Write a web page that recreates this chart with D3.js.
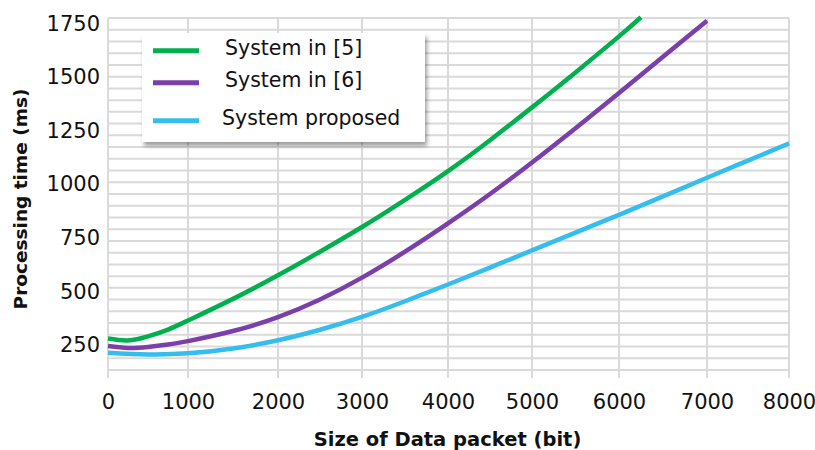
<!DOCTYPE html>
<html>
<head>
<meta charset="utf-8">
<script src="https://cdn.jsdelivr.net/npm/d3@7"></script>
<style>
  html, body { margin: 0; padding: 0; background: #ffffff; }
  svg { display: block; }
  text { font-family: "DejaVu Sans", sans-serif; fill: #111; }
</style>
</head>
<body>
<svg id="chart" width="815" height="450"></svg>
<script>
// ---- data ----
const xTicks = [0, 1000, 2000, 3000, 4000, 5000, 6000, 7000, 8000];
const yTicks = [250, 500, 750, 1000, 1250, 1500, 1750];
const seriesNames = ["System in [5]", "System in [6]", "System proposed"];

const sys5X = [0, 250, 500, 750, 1000, 1500, 2000, 2500, 3000, 3500, 4000, 4500, 5000, 5500, 6000, 6250];
const sys5Y = [280, 271, 290, 322, 364, 465, 575, 685, 800, 927, 1061, 1205, 1358, 1521, 1689, 1778];

const sys6X = [0, 250, 500, 750, 1000, 1500, 2000, 2500, 3000, 3500, 4000, 4500, 5000, 5500, 6000, 6500, 7000];
const sys6Y = [245, 236, 241, 252, 268, 315, 380, 462, 564, 685, 817, 954, 1101, 1261, 1425, 1594, 1762];

const propX = [0, 500, 1000, 1500, 2000, 2500, 3000, 3500, 4000, 4500, 5000, 5500, 6000, 6500, 7000, 7500, 8000];
const propY = [214, 206, 211, 234, 272, 321, 381, 454, 532, 611, 691, 774, 857, 943, 1030, 1110, 1190];

const xTitle = "Size of Data packet (bit)";
const yTitle = "Processing time (ms)";

// ---- layout ----
const colors = ["#00b04f", "#7b3fab", "#35bdee"];
const plot = { left: 108, right: 789, top: 18, bottom: 370 };
const xRange = [108, 188, 278, 362, 448, 532, 619, 707, 789];
const yDomain = [133.4, 1774.7];
const gridCount = 30;

const svg = d3.select("#chart");

const x = d3.scaleLinear().domain(xTicks).range(xRange);
const y = d3.scaleLinear().domain(yDomain).range([plot.bottom, plot.top]);

// filter for legend shadow
const defs = svg.append("defs");
const f = defs.append("filter").attr("id", "shadow").attr("x", "-10%").attr("y", "-10%").attr("width", "130%").attr("height", "140%");
f.append("feDropShadow").attr("dx", 2).attr("dy", 4).attr("stdDeviation", 2.2)
  .attr("flood-color", "#000").attr("flood-opacity", 0.38);

// horizontal gridlines
const gridVals = d3.range(gridCount + 1).map(i => yDomain[0] + i * (yDomain[1] - yDomain[0]) / gridCount);
svg.append("g").selectAll("line").data(gridVals).join("line")
  .attr("x1", plot.left).attr("x2", plot.right)
  .attr("y1", d => y(d)).attr("y2", d => y(d))
  .attr("stroke", "#dadada").attr("stroke-width", 2);

// vertical gridlines (extend below as tick marks)
svg.append("g").selectAll("line").data(xTicks).join("line")
  .attr("x1", d => x(d)).attr("x2", d => x(d))
  .attr("y1", plot.top).attr("y2", plot.bottom + 8)
  .attr("stroke", "#dadada").attr("stroke-width", 2);

// axes labels
const xAxis = svg.append("g").attr("transform", `translate(0,${plot.bottom})`)
  .call(d3.axisBottom(x).tickValues(xTicks).tickSize(0).tickPadding(24).tickFormat(d3.format("d")));
xAxis.select(".domain").remove();
xAxis.selectAll("text").style("font-family", "DejaVu Sans").style("font-size", "21px").attr("fill", "#111");

const yAxis = svg.append("g").attr("transform", `translate(${plot.left},0)`)
  .call(d3.axisLeft(y).tickValues(yTicks).tickSize(0).tickPadding(8).tickFormat(d3.format("d")));
yAxis.select(".domain").remove();
yAxis.selectAll("text").style("font-family", "DejaVu Sans").style("font-size", "21px").attr("fill", "#111");

// series lines
const line = d3.line().x(d => x(d[0])).y(d => y(d[1])).curve(d3.curveNatural);
const series = [
  d3.zip(sys5X, sys5Y),
  d3.zip(sys6X, sys6Y),
  d3.zip(propX, propY)
];
svg.append("g").selectAll("path").data(series).join("path")
  .attr("d", line)
  .attr("fill", "none")
  .attr("stroke", (d, i) => colors[i])
  .attr("stroke-width", 4.5)
  .attr("stroke-linecap", "butt")
  .attr("stroke-linejoin", "round");

// titles
svg.append("text")
  .attr("x", (plot.left + plot.right) / 2 - 1).attr("y", 446)
  .attr("text-anchor", "middle")
  .style("font-size", "19.5px").style("font-weight", "bold")
  .text(xTitle);

svg.append("text")
  .attr("transform", `translate(27,199) rotate(-90)`)
  .attr("text-anchor", "middle")
  .style("font-size", "18.5px").style("font-weight", "bold")
  .text(yTitle);

// legend
const lg = svg.append("g");
lg.append("rect").attr("x", 142).attr("y", 33).attr("width", 283).attr("height", 109)
  .attr("fill", "#fff").attr("filter", "url(#shadow)");
const rowY = [50.7, 82.7, 120.7];
const textX = [225, 225, 222];
seriesNames.forEach((name, i) => {
  lg.append("line").attr("x1", 153).attr("x2", 199).attr("y1", rowY[i]).attr("y2", rowY[i])
    .attr("stroke", colors[i]).attr("stroke-width", 5);
  lg.append("text").attr("x", textX[i]).attr("y", rowY[i] - 2.5)
    .attr("dominant-baseline", "central")
    .style("font-size", "20.5px")
    .text(name);
});
</script>
</body>
</html>
